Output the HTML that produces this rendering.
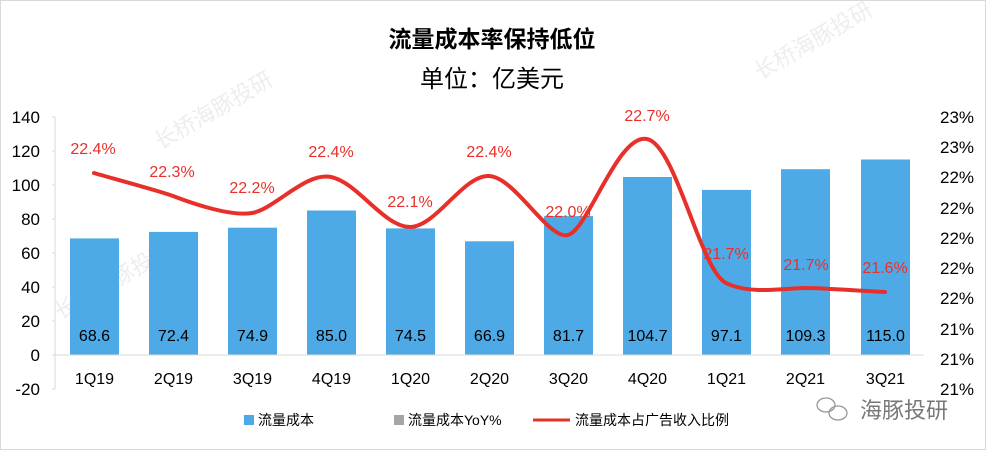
<!DOCTYPE html>
<html><head><meta charset="utf-8"><style>
body{margin:0;background:#fff}
svg{display:block;font-family:"Liberation Sans","Noto Sans CJK SC",sans-serif}
</style></head><body>
<svg width="986" height="450" viewBox="0 0 986 450" xmlns="http://www.w3.org/2000/svg">
<rect x="0.5" y="0.5" width="985" height="449" fill="#fff" stroke="#d9d9d9"/>
<text x="492" y="47" text-anchor="middle" font-size="23" font-weight="bold" fill="#000">流量成本率保持低位</text>
<text x="492" y="87" text-anchor="middle" font-size="24" fill="#000">单位：亿美元</text>
<g fill="#e6e6e6" font-size="22" opacity="0.7">
<text x="160" y="150" transform="rotate(-30 160 150)">长桥海豚投研</text>
<text x="760" y="80" transform="rotate(-30 760 80)">长桥海豚投研</text>
<text x="60" y="320" transform="rotate(-30 60 320)">长桥海豚投研</text>
</g>
<line x1="55" y1="117" x2="55" y2="389" stroke="#d9d9d9"/>
<g stroke="#d9d9d9"><line x1="52" y1="117" x2="55" y2="117"/><line x1="52" y1="151" x2="55" y2="151"/><line x1="52" y1="185" x2="55" y2="185"/><line x1="52" y1="219" x2="55" y2="219"/><line x1="52" y1="253" x2="55" y2="253"/><line x1="52" y1="287" x2="55" y2="287"/><line x1="52" y1="321" x2="55" y2="321"/><line x1="52" y1="355" x2="55" y2="355"/><line x1="52" y1="389" x2="55" y2="389"/></g>
<g font-size="17" text-anchor="end" fill="#000">
<text x="40" y="123">140</text><text x="40" y="157">120</text><text x="40" y="191">100</text><text x="40" y="225">80</text><text x="40" y="259">60</text><text x="40" y="293">40</text><text x="40" y="327">20</text><text x="40" y="361">0</text><text x="40" y="395">-20</text>
</g>
<g font-size="17" fill="#000" text-anchor="start">
<text x="940" y="123">23%</text><text x="940" y="153">23%</text><text x="940" y="183">22%</text><text x="940" y="214">22%</text><text x="940" y="244">22%</text><text x="940" y="274">22%</text><text x="940" y="304">22%</text><text x="940" y="335">21%</text><text x="940" y="365">21%</text><text x="940" y="395">21%</text>
</g>
<g fill="#4eaae6">
<rect x="70" y="238.4" width="49" height="116.6"/>
<rect x="149" y="231.9" width="49" height="123.1"/>
<rect x="228" y="227.7" width="49" height="127.3"/>
<rect x="307" y="210.5" width="49" height="144.5"/>
<rect x="386" y="228.4" width="49" height="126.6"/>
<rect x="465" y="241.3" width="49" height="113.7"/>
<rect x="544" y="216.1" width="49" height="138.9"/>
<rect x="623" y="177.0" width="49" height="178.0"/>
<rect x="702" y="189.9" width="49" height="165.1"/>
<rect x="781" y="169.2" width="49" height="185.8"/>
<rect x="861" y="159.5" width="49" height="195.5"/>
</g>
<line x1="55" y1="355" x2="924" y2="355" stroke="#d9d9d9"/>
<g font-size="16" text-anchor="middle" fill="#000">
<text x="94.5" y="341">68.6</text><text x="173.5" y="341">72.4</text><text x="252.5" y="341">74.9</text><text x="331.5" y="341">85.0</text><text x="410.5" y="341">74.5</text><text x="489.5" y="341">66.9</text><text x="568.5" y="341">81.7</text><text x="647.5" y="341">104.7</text><text x="726.5" y="341">97.1</text><text x="805.5" y="341">109.3</text><text x="885.5" y="341">115.0</text>
</g>
<g font-size="16" text-anchor="middle" fill="#000">
<text x="94.5" y="384">1Q19</text><text x="173.5" y="384">2Q19</text><text x="252.5" y="384">3Q19</text><text x="331.5" y="384">4Q19</text><text x="410.5" y="384">1Q20</text><text x="489.5" y="384">2Q20</text><text x="568.5" y="384">3Q20</text><text x="647.5" y="384">4Q20</text><text x="726.5" y="384">1Q21</text><text x="805.5" y="384">2Q21</text><text x="885.5" y="384">3Q21</text>
</g>
<path fill="none" stroke="#e8302a" stroke-width="4" stroke-linecap="round" d="M94,173 C107,177 160,191 173,196 C186,201 229,217 252,213 C275,209 305,172 331,177 C357,182 384,227 410,227 C436,227 463,175 489,176 C515,177 548,240 568,235 C588,230 618,133 647,139 C676,145 700,270 726,283 C750,295 785,288 805,288 C825,288 860,291 885,292"/>
<g font-size="16" text-anchor="middle" fill="#e8302a">
<text x="93" y="154">22.4%</text><text x="172" y="177">22.3%</text><text x="252" y="193">22.2%</text><text x="331" y="157">22.4%</text><text x="410" y="207">22.1%</text><text x="489" y="157">22.4%</text><text x="568" y="217">22.0%</text><text x="647" y="121">22.7%</text><text x="726" y="259">21.7%</text><text x="806" y="270">21.7%</text><text x="885" y="273">21.6%</text>
</g>
<rect x="244" y="415" width="10" height="10" fill="#4eaae6"/>
<text x="258" y="425" font-size="14" fill="#000">流量成本</text>
<rect x="394" y="415" width="10" height="10" fill="#a5a5a5"/>
<text x="408" y="425" font-size="14" fill="#000">流量成本YoY%</text>
<line x1="533" y1="420" x2="570" y2="420" stroke="#e8302a" stroke-width="3"/>
<text x="575" y="425" font-size="14" fill="#000">流量成本占广告收入比例</text>
<g fill="none" stroke="#999" stroke-width="1.3">
<ellipse cx="826" cy="405" rx="9" ry="7"/><ellipse cx="838" cy="413" rx="9" ry="7"/>
</g>
<text x="860" y="418" font-size="22" fill="#777">海豚投研</text>
</svg>
</body></html>
